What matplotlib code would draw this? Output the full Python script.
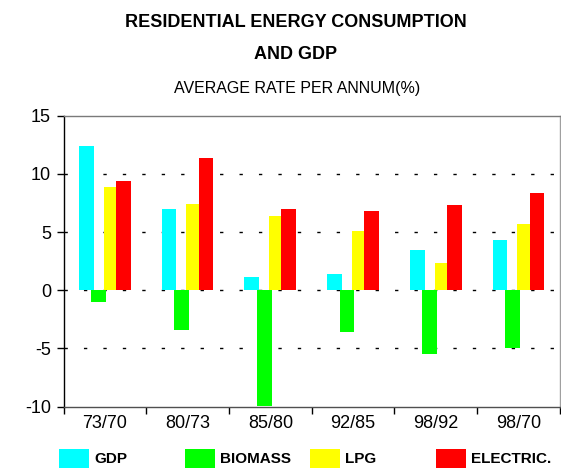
import matplotlib
matplotlib.use("Agg")
import matplotlib.pyplot as plt
import numpy as np
from matplotlib.patches import Patch

plt.rcParams['font.family'] = ['Liberation Sans', 'DejaVu Sans']

categories = ["73/70", "80/73", "85/80", "92/85", "98/92", "98/70"]
series_names = ["GDP", "BIOMASS", "LPG", "ELECTRIC."]
gdp = [12.4, 7.0, 1.15, 1.4, 3.45, 4.3]
biomass = [-1.0, -3.4, -9.9, -3.55, -5.45, -4.95]
lpg = [8.85, 7.4, 6.4, 5.1, 2.35, 5.7]
electric = [9.4, 11.35, 7.0, 6.8, 7.3, 8.35]
colors = ["#00FFFF", "#00FF00", "#FFFF00", "#FF0000"]
yticks = [-10, -5, 0, 5, 10, 15]

fig = plt.figure(figsize=(5.61, 4.70), dpi=100)
ax = fig.add_axes([0.1132, 0.1347, 0.8848, 0.6191])

x = np.arange(len(categories))
step = 0.149
width = 0.178
offsets = np.array([-1.5, -0.5, 0.5, 1.5]) * step
all_series = [gdp, biomass, lpg, electric]
for vals, off, c, name in zip(all_series, offsets, colors, series_names):
    ax.bar(x + off, vals, width, color=c, label=name, zorder=2, linewidth=0)

ax.set_xlim(-0.5, len(categories) - 0.5)
ax.set_ylim(-10, 15)
ax.set_yticks(yticks)
ax.set_yticklabels([str(v) for v in yticks], fontsize=13)
ax.set_xticks(x)
ax.set_xticklabels(categories, fontsize=13)
ax.tick_params(axis='x', which='major', length=0, pad=6)
ax.set_xticks(np.arange(-0.5, len(categories)), minor=True)
ax.tick_params(axis='x', which='minor', length=5, width=1, color='black')
ax.tick_params(axis='y', length=5, width=1, pad=4)

for yv in [-5, 0, 5, 10]:
    ax.axhline(yv, color='black', linewidth=1.0, linestyle=(0, (2.4, 11.6)), zorder=1)

ax.spines['top'].set_color('#7a7a7a')
ax.spines['right'].set_color('#a0a0a0')
ax.spines['left'].set_color('black')
ax.spines['bottom'].set_color('#505050')
for s in ax.spines.values():
    s.set_linewidth(1.0)

fig.text(0.527, 0.953, "RESIDENTIAL ENERGY CONSUMPTION", ha='center', va='center',
         fontsize=13, fontweight='bold')
fig.text(0.527, 0.885, "AND GDP", ha='center', va='center', fontsize=13, fontweight='bold')
fig.text(0.530, 0.812, "AVERAGE RATE PER ANNUM(%)", ha='center', va='center', fontsize=11.5)

legend_x = [59, 185, 310, 436]
for name, c, lx in zip(series_names, colors, legend_x):
    fig.legend([Patch(facecolor=c, edgecolor='none')], [name], loc='center left',
               bbox_to_anchor=(lx / 561, 0.025), frameon=False,
               handlelength=1.96, handleheight=1.5, handletextpad=0.33,
               borderaxespad=0, borderpad=0,
               prop={'weight': 'bold', 'size': 11})

fig.savefig("out.png", dpi=100)
